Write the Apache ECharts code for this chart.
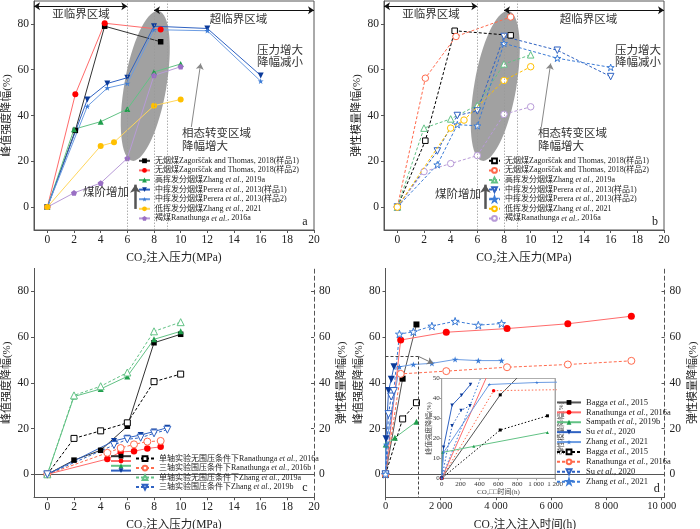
<!DOCTYPE html>
<html>
<head>
<meta charset="utf-8">
<script src="https://cdn.jsdelivr.net/npm/echarts@6/dist/echarts.min.js"></script>
<style>
html,body{margin:0;padding:0;background:#fff;}
#main{width:700px;height:529px;}
</style>
</head>
<body>
<div id="main"></div>
<script>
// ---------------- 数据 ----------------
// (a) 峰值强度降幅 vs CO2注入压力
var namesA = ['无烟煤Zagorščak and Thomas, 2018(样品1)', '无烟煤Zagorščak and Thomas, 2018(样品2)',
  '高挥发分烟煤Zhang et al., 2019a', '中挥发分烟煤Perera et al., 2013(样品1)',
  '中挥发分烟煤Perera et al., 2013(样品2)', '低挥发分烟煤Zhang et al., 2021', '褐煤Ranathunga et al., 2016a'];
var a1 = [[0, 0], [2.1, 33.5], [4.3, 79], [8.5, 72.2]];
var a2 = [[0, 0], [2.1, 49.3], [4.3, 80.3], [8.5, 77.6]];
var a3 = [[0, 0], [2, 34], [4, 37.3], [6, 42.8], [8, 59], [10, 62.5]];
var a4 = [[0, 0], [3, 47], [4.5, 54], [6, 56.5], [8, 79], [12, 78], [16, 57.5]];
var a5 = [[0, 0], [3, 44], [4.5, 52], [6, 54], [8, 77.5], [12, 77], [16, 55]];
var a6 = [[0, 0], [4, 26.7], [5, 28.3], [8, 44.3], [10, 47]];
var a7 = [[0, 0], [2, 6.2], [4, 10.5], [6, 21.3], [8, 57.5], [10, 61.3]];

// (b) 弹性模量降幅 vs CO2注入压力
var b1 = [[0, 0], [2.1, 29], [4.3, 77], [8.5, 75]];
var b2 = [[0, 0], [2.1, 56.3], [4.4, 74.5], [8.5, 83]];
var b3 = [[0, 0], [2, 34.5], [4, 38.5], [6, 44.5], [8, 62.5], [10, 66.5]];
var b4 = [[0, 0], [3, 24.5], [4.5, 40], [6, 42], [8, 74.5], [12, 68.5], [16, 57]];
var b5 = [[0, 0], [3, 18.5], [4.5, 36], [6, 35.5], [8, 71.5], [12, 65], [16, 61]];
var b6 = [[0, 0], [4, 34.5], [5, 38], [8, 55.3], [10, 61.3]];
var b7 = [[0, 0], [2, 15.5], [4, 19], [6, 22.5], [8, 40.5], [10, 43.8]];

// (c) 单轴/三轴
var namesC = ['单轴实验无围压条件下Ranathunga et al., 2016a', '三轴实验围压条件下Ranathunga et al., 2016b',
  '单轴实验无围压条件下Zhang et al., 2019a', '三轴实验围压条件下Zhang et al., 2019b'];
var c1 = [[0, 0], [2, 6.2], [4, 10.5], [6, 21], [8, 57.5], [10, 61.2]];
var c2 = [[0, 0], [4.5, 6.7], [5.5, 9.8], [6.5, 10.1], [7.5, 11.3], [8.5, 12]];
var c3 = [[0, 0], [2, 34], [4, 37.3], [6, 42.8], [8, 59], [10, 62.5]];
var c4 = [[0, 0], [5, 14.6], [6, 16], [7, 17.2], [8, 18.7], [9, 20.4]];
var c5 = [[0, 0], [2, 15.7], [4, 19], [6, 22.5], [8, 40.5], [10, 43.8]];
var c6 = [[0, 0], [4.5, 9.4], [5.5, 11.5], [6.5, 13.1], [7.5, 14.3], [8.5, 14.6]];
var c7 = [[0, 0], [2, 34.5], [4, 38.5], [6, 44.5], [8, 62.5], [10, 66.5]];
var c8 = [[0, 0], [5, 12.8], [6, 15.3], [7, 16], [8, 17.9], [9, 19.5]];

// (d) CO2注入时间
var namesD = ['Bagga et al., 2015', 'Ranathunga et al., 2016a', 'Sampath et al., 2019b', 'Su et al., 2020', 'Zhang et al., 2021',
  'Bagga et al., 2015\u200b', 'Ranathunga et al., 2016a\u200b', 'Su et al., 2020\u200b', 'Zhang et al., 2021\u200b'];
var dBagga = [[0, 0], [620, 41.8], [1120, 65.5]];
var dRana = [[0, 0], [550, 58.7], [2200, 62.1], [4400, 63.7], [6600, 65.8], [8900, 69.1]];
var dSampath = [[0, 0], [10, 13], [340, 16], [1120, 23]];
var dSu = [[0, 0], [20, 15.6], [110, 36.6], [210, 41.6], [305, 47]];
var dZhang = [[0, 0], [20, 13], [504, 47], [1008, 48], [1680, 48.5], [2520, 50.2], [3360, 49.7], [4200, 49.7]];
var dBaggaE = [[0, 0], [620, 24.2], [1120, 31.3]];
var dRanaE = [[0, 0], [550, 43.9], [2200, 45.1], [4400, 46.8], [6600, 48], [8900, 49.6]];
var dSuE = [[0, 0], [110, 26.3], [205, 34], [300, 36.4]];
var dZhangE = [[0, 0], [504, 61.3], [1008, 62.3], [1680, 64.8], [2520, 66.9], [3360, 65.2], [4200, 65.9]];

// 刻度
var ticksP = [0, 2, 4, 6, 8, 10, 12, 14, 16, 18, 20];
var ticksY = [0, 20, 40, 60, 80];
var ticksT = [0, 2000, 4000, 6000, 8000, 10000];
var phaseLines = [6, 8, 9];

// ---------------- 样式 ----------------
var FONT = "'Liberation Serif','Times New Roman','Noto Sans CJK SC',serif";
var AX = '#555';
var STAR = 'path://M50,0L61.2,34.5L97.6,34.5L68.2,55.9L79.4,90.5L50,69.1L20.6,90.5L31.8,55.9L2.4,34.5L38.8,34.5Z';
var PENT = 'path://M50,0L97.6,34.5L79.4,90.5L20.6,90.5L2.4,34.5Z';
var col = {
  k: '#000000', r: '#ff0000', rl: '#ff6b6b', g: '#1f9e4c', gl: '#62c285',
  nb: '#0b3a9a', nbl: '#2f62c2', lb: '#3b7bd6', lbl: '#6c9ce2',
  y: '#ffc000', yl: '#ffd65c', p: '#9a6fc4', pl: '#b89bd8', ro: '#ff6a4d'
};

function merge(a, b) {
  for (var k in b) {
    if (b[k] && typeof b[k] === 'object' && !Array.isArray(b[k]) && a[k] && typeof a[k] === 'object') merge(a[k], b[k]);
    else a[k] = b[k];
  }
  return a;
}

function ln(name, data, xi, yi, c, sym, o) {
  o = o || {};
  return {
    name: name, type: 'line', data: data, xAxisIndex: xi, yAxisIndex: yi,
    symbol: sym, symbolSize: o.size || 6, symbolRotate: o.rot || 0, symbolKeepAspect: true,
    showAllSymbol: true, clip: true, silent: true, animation: false,
    emphasis: {disabled: true},
    itemStyle: {color: o.open ? '#fff' : c, borderColor: c, borderWidth: o.open ? 1 : 0},
    lineStyle: {color: o.lc || c, width: o.lw || 1, type: o.dash ? (o.dotted ? [1.5, 2] : [3, 2]) : 'solid'},
    z: o.z || 3
  };
}

function axis(extra) {
  return merge({
    type: 'value',
    axisLine: {show: true, onZero: false, lineStyle: {color: AX, width: 1}},
    axisTick: {show: true, length: 3, lineStyle: {color: AX}},
    axisLabel: {color: '#222', fontSize: 11.5, fontFamily: FONT, margin: 4},
    splitLine: {show: false},
    nameLocation: 'middle', nameMoveOverlap: false,
    nameTextStyle: {color: '#222', fontSize: 11.5, fontFamily: FONT}
  }, extra);
}

function pAxis(gi, withName) {
  return axis({gridIndex: gi, min: -1, max: 20,
    axisLabel: {customValues: ticksP}, axisTick: {customValues: ticksP},
    name: withName ? 'CO₂注入压力(MPa)' : '', nameGap: 22});
}
function yAx(gi, name, right) {
  var o = {gridIndex: gi, min: -10, max: 90,
    axisLabel: {customValues: ticksY, margin: 5}, axisTick: {customValues: ticksY},
    name: name, nameGap: 21, nameRotate: 90, nameTextStyle: {fontSize: 11}};
  if (right) {
    o.position = 'right';
    o.axisLine = {lineStyle: {type: [4, 3]}};
    o.axisTick = {inside: true, customValues: ticksY};
    o.nameGap = 23;
  }
  return axis(o);
}
function topAx(gi) {
  return {type: 'value', gridIndex: gi, position: 'top', min: 0, max: 1,
    axisLine: {show: true, lineStyle: {color: AX}}, axisTick: {show: false},
    axisLabel: {show: false}, splitLine: {show: false}};
}
function spaced(v) {
  return String(v).replace(/(\d)(?=(\d{3})+$)/g, '$1 ');
}

function legendFmt(n) {
  return n.replace(/\u200b/g, '').replace('et al.', '{i|et al.}');
}
function legend(data, left, top, iw, lh, fs, extra) {
  return merge({
    data: data, left: left, top: top, orient: 'vertical', padding: 0,
    itemWidth: iw, itemHeight: 6, itemGap: 0, selectedMode: false,
    formatter: legendFmt,
    textStyle: {fontSize: fs, fontFamily: FONT, color: '#222', lineHeight: lh,
      rich: {i: {fontStyle: 'italic', fontSize: fs, fontFamily: FONT, lineHeight: lh}}}
  }, extra || {});
}

function annot(xi, yi, lines) {
  return {
    name: '', type: 'line', data: [], xAxisIndex: xi, yAxisIndex: yi, silent: true, animation: false,
    markLine: {silent: true, animation: false, symbol: 'none', symbolSize: 6,
      label: {show: false}, emphasis: {disabled: true}, data: lines}
  };
}
function phaseMarks() {
  var out = phaseLines.map(function (v) {
    return {xAxis: v, lineStyle: {color: '#999', type: [1.5, 1.5], width: 0.8}};
  });
  var blk = {color: '#111', type: 'solid', width: 1};
  out.push([{coord: [-1, 87.7], symbol: 'arrow', lineStyle: blk}, {coord: [6, 87.7], symbol: 'arrow'}]);
  out.push([{coord: [8, 86], symbol: 'arrow', lineStyle: blk}, {coord: [20, 86], symbol: 'arrow'}]);
  out.push([{coord: [10.8, 35], lineStyle: {color: '#888', type: 'solid', width: 1}}, {coord: [11.5, 62.7], symbol: 'arrow'}]);
  out.push([{coord: [6.6, -0.8], lineStyle: {color: '#555', type: 'solid', width: 2.5}}, {coord: [6.6, 9.8], symbol: 'arrow', symbolSize: 8}]);
  return out;
}

// ---------------- 系列 ----------------
var series = [
  ln(namesA[0], a1, 0, 0, col.k, 'rect', {lc: '#333', size: 5.5}),
  ln(namesA[1], a2, 0, 0, col.r, 'circle', {lc: col.rl}),
  ln(namesA[2], a3, 0, 0, col.g, 'triangle', {lc: col.gl}),
  ln(namesA[3], a4, 0, 0, col.nb, 'triangle', {lc: col.nbl, rot: 180}),
  ln(namesA[4], a5, 0, 0, col.lb, STAR, {lc: col.lbl}),
  ln(namesA[6], a7, 0, 0, col.p, PENT, {lc: col.pl}),
  ln(namesA[5], a6, 0, 0, col.y, 'circle', {lc: col.yl, z: 4}),
  annot(0, 0, phaseMarks()),

  ln(namesA[0] + '\u200b', b1, 1, 1, col.k, 'rect', {open: true, dash: true, size: 5.5}),
  ln(namesA[1] + '\u200b', b2, 1, 1, col.ro, 'circle', {open: true, dash: true, size: 6.5}),
  ln(namesA[2] + '\u200b', b3, 1, 1, col.gl, 'triangle', {open: true, dash: true, size: 6.5}),
  ln(namesA[3] + '\u200b', b4, 1, 1, col.nbl, 'triangle', {open: true, dash: true, rot: 180, size: 6.5}),
  ln(namesA[4] + '\u200b', b5, 1, 1, col.lb, STAR, {open: true, dash: true, size: 7}),
  ln(namesA[6] + '\u200b', b7, 1, 1, col.pl, 'circle', {open: true, dash: true, size: 6.5}),
  ln(namesA[5] + '\u200b', b6, 1, 1, col.y, 'circle', {open: true, dash: true, size: 6.5, z: 4}),
  annot(1, 1, phaseMarks()),

  ln(namesC[0] + '\u200b\u200b', c1, 2, 2, col.k, 'rect', {lc: '#333', size: 5.5}),
  ln(namesC[1] + '\u200b\u200b', c2, 2, 2, col.r, 'circle', {lc: col.rl, size: 6.5}),
  ln(namesC[2] + '\u200b\u200b', c3, 2, 2, col.g, 'triangle', {lc: col.gl}),
  ln(namesC[3] + '\u200b\u200b', c4, 2, 2, col.nb, 'triangle', {lc: col.nbl, rot: 180}),
  ln(namesC[0], c5, 2, 3, col.k, 'rect', {open: true, dash: true, size: 6}),
  ln(namesC[1], c6, 2, 3, col.ro, 'circle', {open: true, dash: true, size: 7}),
  ln(namesC[2], c7, 2, 3, col.gl, 'triangle', {open: true, dash: true, size: 7}),
  ln(namesC[3], c8, 2, 3, col.nbl, 'triangle', {open: true, dash: true, rot: 180, size: 7}),

  ln(namesD[0], dBagga, 3, 4, col.k, 'rect', {lc: '#555', size: 6}),
  ln(namesD[1], dRana, 3, 4, col.r, 'circle', {lc: col.rl, size: 7}),
  ln(namesD[2], dSampath, 3, 4, col.g, 'triangle', {lc: col.gl, size: 6}),
  ln(namesD[3], dSu, 3, 4, col.nb, 'triangle', {lc: col.nbl, rot: 180, size: 7}),
  ln(namesD[4], dZhang, 3, 4, col.lb, STAR, {lc: col.lbl, size: 6.5}),
  ln(namesD[5], dBaggaE, 3, 5, col.k, 'rect', {open: true, dash: true, size: 6}),
  ln(namesD[6], dRanaE, 3, 5, col.ro, 'circle', {open: true, dash: true, size: 7}),
  ln(namesD[7], dSuE, 3, 5, col.nbl, 'triangle', {open: true, dash: true, rot: 180, size: 7}),
  ln(namesD[8], dZhangE, 3, 5, col.lb, STAR, {open: true, dash: true, size: 8}),
  annot(3, 4, [
    [{coord: [0, 51.5], lineStyle: {color: '#444', type: [3, 2], width: 1}}, {coord: [1200, 51.5]}],
    [{coord: [1200, 51.5], lineStyle: {color: '#444', type: [3, 2], width: 1}}, {coord: [1200, -10]}],
    [{coord: [1200, 51.5], lineStyle: {color: '#777', type: 'solid', width: 1}}, {coord: [1720, 48.5], symbol: 'arrow'}]
  ]),

  // 局部放大
  ln('i0', dBagga, 4, 6, col.k, 'rect', {lc: '#555', size: 3}),
  ln('i1', dRana, 4, 6, col.r, 'circle', {lc: col.rl, size: 3.5}),
  ln('i2', dSampath, 4, 6, col.g, 'triangle', {lc: col.gl, size: 3}),
  ln('i3', dSu, 4, 6, col.nb, 'triangle', {lc: col.nbl, rot: 180, size: 3.5}),
  ln('i4', dZhang, 4, 6, col.lb, STAR, {lc: col.lbl, size: 3.5}),
  ln('i5', dBaggaE, 4, 7, col.k, 'rect', {dash: true, dotted: true, size: 3}),
  ln('i6', dRanaE, 4, 7, col.r, 'circle', {lc: col.ro, dash: true, dotted: true, size: 3.5}),
  ln('i7', dSuE, 4, 7, col.nb, 'triangle', {lc: col.nbl, dash: true, dotted: true, rot: 180, size: 3.5}),
  ln('i8', dZhangE, 4, 7, col.lb, STAR, {dash: true, dotted: true, size: 3.5})
];

var inAxis = {axisLine: {lineStyle: {color: '#999', width: 0.8}}, axisTick: {length: 2, lineStyle: {color: '#999'}},
  axisLabel: {fontSize: 7, margin: 2, color: '#333'}, nameTextStyle: {fontSize: 7, color: '#444'}};

var option = {
  backgroundColor: '#fff',
  animation: false,
  grid: [
    {left: 34, top: 1, width: 280, height: 229, show: true, borderColor: AX, borderWidth: 1, outerBoundsMode: 'none'},
    {left: 384, top: 1, width: 280, height: 229, show: true, borderColor: AX, borderWidth: 1, outerBoundsMode: 'none'},
    {left: 34, top: 268.4, width: 280, height: 228.8, outerBoundsMode: 'none'},
    {left: 385.5, top: 268.4, width: 279, height: 228.8, outerBoundsMode: 'none'},
    {left: 441.7, top: 378.5, width: 113.3, height: 99.8, show: true, borderColor: '#999', borderWidth: 0.8, backgroundColor: '#fff', outerBoundsMode: 'none'}
  ],
  xAxis: [
    pAxis(0, true), pAxis(1, true), pAxis(2, true),
    axis({gridIndex: 3, min: 0, max: 10100, name: 'CO₂注入注入时间(h)', nameGap: 22,
      axisLabel: {customValues: ticksT, formatter: spaced, fontSize: 10.5, showMaxLabel: true}, axisTick: {customValues: ticksT}}),
    axis(merge({gridIndex: 4, min: 0, max: 1200, interval: 200, name: 'CO₂□□时间(h)', nameGap: 10,
      axisLabel: {formatter: spaced}}, inAxis)),
    topAx(2), topAx(3)
  ],
  yAxis: [
    yAx(0, '峰值强度降幅(%)'), yAx(1, '弹性模量降幅(%)'),
    yAx(2, '峰值强度降幅(%)'), yAx(2, '弹性模量降幅(%)', true),
    yAx(3, '峰值强度降幅(%)'), yAx(3, '弹性模量降幅(%)', true),
    axis(merge({gridIndex: 4, min: 0, max: 50, interval: 10, name: '峰值强度降幅(%)', nameGap: 9, nameRotate: 90}, inAxis)),
    axis(merge({gridIndex: 4, min: 0, max: 50, interval: 10, position: 'right', name: '弹性模量降幅(%)', nameGap: 3, nameRotate: 90,
      axisLabel: {show: false}, axisTick: {show: false}}, inAxis))
  ],
  legend: [
    legend(namesA, 138, 156, 11, 9.6, 8),
    legend(namesA.map(function (n) { return n + '\u200b'; }), 488, 156, 11, 9.6, 8),
    legend(namesC.map(function (n) { return n + '\u200b\u200b'; }), 110, 453.8, 20, 9.5, 8, {formatter: function () { return ''; }}),
    legend(namesC, 135, 453.8, 18, 9.5, 8),
    legend(namesD, 556, 397.5, 24, 9.9, 8.5)
  ],
  series: series
};

var chart = echarts.init(document.getElementById('main'), null, {renderer: 'canvas'});
chart.setOption(option);

// ---------------- 注释 ----------------
function txt(s, x, y, o) {
  o = o || {};
  return {type: 'text', x: x, y: y, z: 10, silent: true,
    style: {text: s, fill: o.c || '#333', font: (o.fs || 11.5) + 'px ' + FONT,
      align: o.align || 'center', verticalAlign: 'middle', lineHeight: o.lh || 12}};
}
function blob(gi) {
  var p = chart.convertToPixel({xAxisIndex: gi, yAxisIndex: gi}, [7.35, 52.9]);
  return {type: 'ellipse', x: p[0], y: p[1], rotation: -10 * Math.PI / 180, z: 1, silent: true,
    shape: {cx: 0, cy: 0, rx: 21, ry: 76}, style: {fill: 'rgba(135,135,135,0.78)'}};
}
var g = [blob(0), blob(1)];
[[0, 0], [350, 1]].forEach(function (s) {
  var dx = s[0];
  g.push(txt('亚临界区域', 81 + dx, 14.5));
  g.push(txt('超临界区域', 238.5 + dx, 20));
  g.push(txt('压力增大\n降幅减小', (s[1] ? 638 : 280), 57, {lh: 11.5}));
  g.push(txt('相态转变区域\n降幅增大', (s[1] ? 538 : 182), 140.5, {align: 'left', lh: 12.5}));
  g.push(txt('煤阶增加', (s[1] ? 435 : 83), (s[1] ? 195 : 193.3), {align: 'left'}));
});
g.push(txt('a', 305, 221.7, {fs: 12, c: '#222'}));
g.push(txt('b', 655, 221.7, {fs: 12, c: '#222'}));
g.push(txt('c', 305, 487.7, {fs: 12, c: '#222'}));
g.push(txt('d', 656.7, 489, {fs: 12, c: '#222'}));
chart.setOption({graphic: g});
</script>
</body>
</html>
